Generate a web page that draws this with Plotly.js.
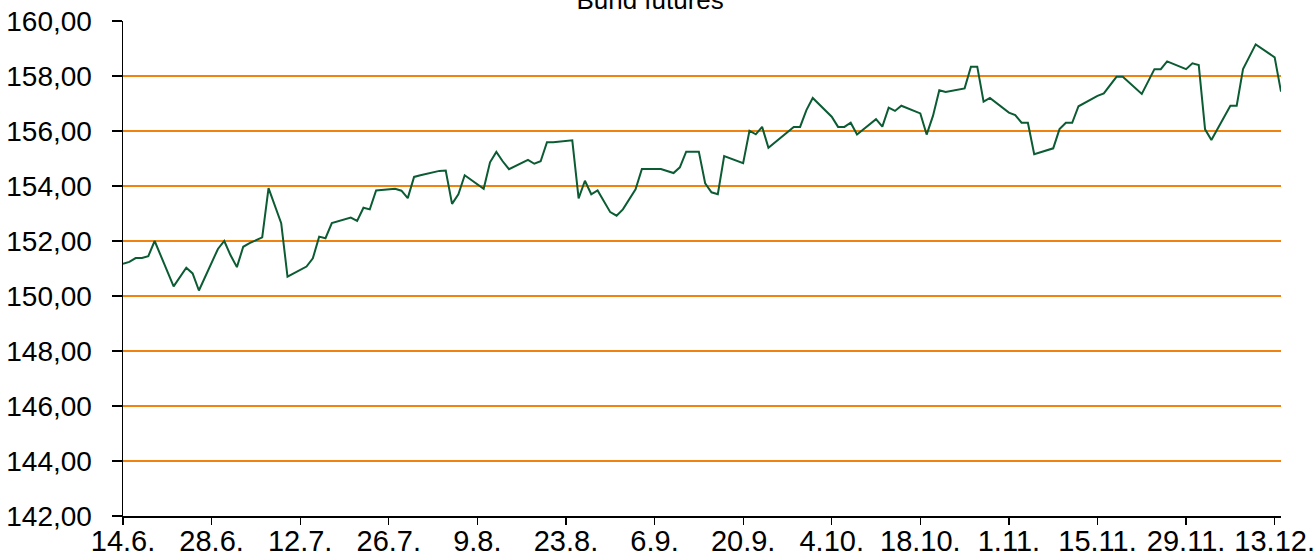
<!DOCTYPE html>
<html>
<head>
<meta charset="utf-8">
<script src="https://cdn.plot.ly/plotly-3.0.1.min.js"></script>
<style>
html,body{margin:0;padding:0;background:#fff;}
#chart{width:1316px;height:554px;}
</style>
</head>
<body>
<div id="chart"></div>
<script>
const chartTitle = "Bund futures";
const dates = [
"2015-06-14","2015-06-15","2015-06-16","2015-06-17","2015-06-18","2015-06-19",
"2015-06-22","2015-06-24","2015-06-25","2015-06-26","2015-06-29","2015-06-30",
"2015-07-01","2015-07-02","2015-07-03","2015-07-04","2015-07-06","2015-07-07",
"2015-07-09","2015-07-10","2015-07-13","2015-07-14","2015-07-15","2015-07-16",
"2015-07-17","2015-07-20","2015-07-21","2015-07-22","2015-07-23","2015-07-24",
"2015-07-27","2015-07-28","2015-07-29","2015-07-30","2015-07-31","2015-08-03",
"2015-08-04","2015-08-05","2015-08-06","2015-08-07","2015-08-10","2015-08-11",
"2015-08-12","2015-08-13","2015-08-14","2015-08-17","2015-08-18","2015-08-19",
"2015-08-20","2015-08-21","2015-08-24","2015-08-25","2015-08-26","2015-08-27",
"2015-08-28","2015-08-30","2015-08-31","2015-09-01","2015-09-03","2015-09-04",
"2015-09-07","2015-09-09","2015-09-10","2015-09-11","2015-09-13","2015-09-14",
"2015-09-15","2015-09-16","2015-09-17","2015-09-20","2015-09-21","2015-09-22",
"2015-09-23","2015-09-24","2015-09-28","2015-09-29","2015-09-30","2015-10-01",
"2015-10-04","2015-10-05","2015-10-06","2015-10-07","2015-10-08","2015-10-11",
"2015-10-12","2015-10-13","2015-10-14","2015-10-15","2015-10-18","2015-10-19",
"2015-10-20","2015-10-21","2015-10-22","2015-10-25","2015-10-26","2015-10-27",
"2015-10-28","2015-10-29","2015-11-01","2015-11-02","2015-11-03","2015-11-04",
"2015-11-05","2015-11-08","2015-11-09","2015-11-10","2015-11-11","2015-11-12",
"2015-11-15","2015-11-16","2015-11-18","2015-11-19","2015-11-22","2015-11-23",
"2015-11-24","2015-11-25","2015-11-26","2015-11-29","2015-11-30","2015-12-01",
"2015-12-02","2015-12-03","2015-12-06","2015-12-07","2015-12-08","2015-12-10",
"2015-12-13","2015-12-14"
];
const prices = [
151.17,151.24,151.38,151.38,151.45,152.00,
150.35,151.03,150.82,150.20,151.71,152.00,
151.48,151.05,151.79,151.92,152.13,153.92,
152.65,150.70,151.07,151.37,152.16,152.10,
152.65,152.85,152.73,153.21,153.15,153.84,
153.90,153.83,153.56,154.33,154.39,154.55,
154.56,153.35,153.70,154.39,153.90,154.86,
155.24,154.90,154.61,154.95,154.81,154.90,
155.59,155.59,155.66,153.55,154.19,153.70,
153.84,153.05,152.92,153.15,153.88,154.62,
154.62,154.47,154.68,155.25,155.25,154.10,
153.77,153.70,155.09,154.83,156.01,155.88,
156.15,155.39,156.15,156.15,156.76,157.20,
156.52,156.15,156.15,156.30,155.87,156.43,
156.16,156.85,156.73,156.92,156.64,155.87,
156.55,157.48,157.42,157.55,158.34,158.34,
157.07,157.20,156.67,156.58,156.30,156.30,
155.16,155.37,156.07,156.30,156.30,156.90,
157.28,157.37,157.97,157.97,157.35,157.80,
158.25,158.25,158.53,158.25,158.46,158.40,
156.06,155.67,156.92,156.92,158.25,159.15,
158.68,157.43
];
const xStart = "2015-06-14";
const xEnd = "2015-12-14";
const xTickDates = ["2015-06-14","2015-06-28","2015-07-12","2015-07-26","2015-08-09",
  "2015-08-23","2015-09-06","2015-09-20","2015-10-04","2015-10-18","2015-11-01",
  "2015-11-15","2015-11-29","2015-12-13"];
const xTickLabels = ["14.6.","28.6.","12.7.","26.7.","9.8.","23.8.","6.9.","20.9.",
  "4.10.","18.10.","1.11.","15.11.","29.11.","13.12."];
const yTicks = [142,144,146,148,150,152,154,156,158,160];
const gridValues = [144,146,148,150,152,154,156,158];

const FONT = "'Liberation Sans', Arial, sans-serif";

const trace = {
  x: dates, y: prices, type: "scatter", mode: "lines",
  line: {color: "#0B5B33", width: 2},
  hoverinfo: "x+y"
};
const gridTrace = {
  x: [xStart], y: [null], xaxis: "x", yaxis: "y2", type: "scatter", mode: "lines",
  showlegend: false, hoverinfo: "skip"
};
const labelTrace = {
  x: [xStart], y: [null], xaxis: "x2", yaxis: "y", type: "scatter", mode: "lines",
  showlegend: false, hoverinfo: "skip"
};

const layout = {
  width: 1316, height: 554,
  margin: {l: 123, r: 35, t: 21, b: 38, pad: 0},
  paper_bgcolor: "#fff", plot_bgcolor: "#fff",
  separators: ",.",
  showlegend: false,
  font: {family: FONT, color: "#000"},
  title: {text: chartTitle, font: {family: FONT, size: 26, color: "#000"},
          x: 0.494, xanchor: "center", yref: "container", y: 1.0, yanchor: "middle"},
  xaxis: {
    type: "date", range: [xStart, xEnd],
    tickmode: "array", tickvals: xTickDates, showticklabels: false,
    showgrid: false, zeroline: false,
    showline: true, linecolor: "#000", linewidth: 1.5,
    ticks: "outside", ticklen: 7, tickcolor: "#000", tickwidth: 1.2
  },
  xaxis2: {
    type: "date", range: [xStart, xEnd], overlaying: "x",
    anchor: "free", position: 0.008,
    tickmode: "array", tickvals: xTickDates, ticktext: xTickLabels,
    showgrid: false, zeroline: false, showline: false, ticks: "",
    ticklabelstandoff: 9,
    tickfont: {family: FONT, size: 29, color: "#000"}
  },
  yaxis: {
    range: [142, 160], tickvals: yTicks, tickformat: ".2f",
    showgrid: false, zeroline: false,
    showline: true, linecolor: "#000", linewidth: 1.5,
    ticks: "outside", ticklen: 10, tickcolor: "#000", tickwidth: 1.2,
    tickfont: {family: FONT, size: 28, color: "#000"},
    ticklabelstandoff: 14
  },
  yaxis2: {
    overlaying: "y", range: [142, 160], tickvals: gridValues,
    showgrid: true, gridcolor: "#F0820F", gridwidth: 2,
    showticklabels: false, ticks: "", showline: false, zeroline: false
  }
};

Plotly.newPlot("chart", [gridTrace, labelTrace, trace], layout, {displayModeBar: false, staticPlot: true});
</script>
</body>
</html>
